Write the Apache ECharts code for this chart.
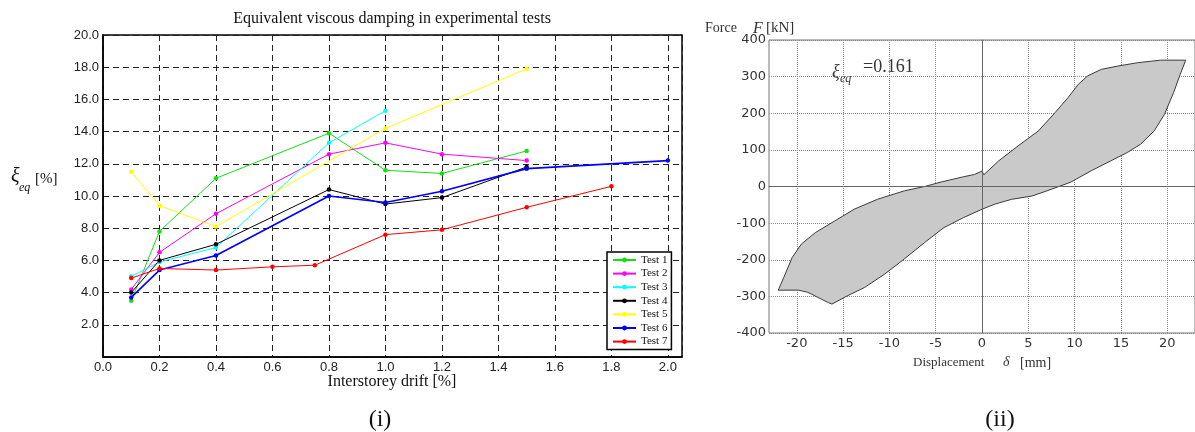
<!DOCTYPE html>
<html>
<head>
<meta charset="utf-8">
<script src="https://cdn.jsdelivr.net/npm/echarts@6/dist/echarts.min.js"></script>
<style>
html, body { margin: 0; padding: 0; background: #fff; }
#chart { width: 1195px; height: 432px; }
</style>
</head>
<body>
<div id="chart"></div>
<script>
// (i) equivalent viscous damping, one pair of arrays per test
const testNames = ['Test 1', 'Test 2', 'Test 3', 'Test 4', 'Test 5', 'Test 6', 'Test 7'];
const drift1 = [0.1, 0.2, 0.4, 0.8, 1.0, 1.2, 1.5];
const damp1  = [3.5, 7.8, 11.1, 13.9, 11.6, 11.4, 12.8];
const drift2 = [0.1, 0.2, 0.4, 0.8, 1.0, 1.2, 1.5];
const damp2  = [4.2, 6.5, 8.9, 12.6, 13.3, 12.6, 12.2];
const drift3 = [0.1, 0.2, 0.4, 0.8, 1.0];
const damp3  = [5.0, 5.9, 6.8, 13.3, 15.3];
const drift4 = [0.1, 0.2, 0.4, 0.8, 1.0, 1.2, 1.5];
const damp4  = [4.0, 6.0, 7.0, 10.4, 9.5, 9.9, 11.8];
const drift5 = [0.1, 0.2, 0.4, 1.0, 1.5];
const damp5  = [11.5, 9.4, 8.1, 14.2, 17.9];
const drift6 = [0.1, 0.2, 0.4, 0.8, 1.0, 1.2, 1.5, 2.0];
const damp6  = [3.7, 5.4, 6.3, 10.0, 9.6, 10.3, 11.7, 12.2];
const drift7 = [0.1, 0.2, 0.4, 0.6, 0.75, 1.0, 1.2, 1.5, 1.8];
const damp7  = [4.9, 5.5, 5.4, 5.6, 5.7, 7.6, 7.9, 9.3, 10.6];

// (ii) hysteresis loop outline, displacement [mm] and force [kN]
const loopDisp  = [-22.0, -21.4, -20.5, -19.5, -18.0, -15.9, -13.8, -11.3, -8.4, -6.2, -4.3, -2.1, -0.8, 0.0,
                   0.2, 1.8, 3.9, 6.1, 7.9, 9.3, 10.4, 11.4, 12.9, 14.7, 16.8, 19.3, 22.0,
                   21.4, 20.7, 19.7, 18.6, 17.1, 15.7, 13.9, 11.8, 9.6, 8.3, 7.0, 5.4, 3.2, 1.4, 0.0,
                   -2.0, -4.1, -6.2, -8.4, -10.5, -12.7, -14.5, -16.2, -16.6, -18.8, -19.8];
const loopForce = [-283, -248, -194, -157, -126, -94, -62, -35, -12, 0, 13, 26, 33, 42,
                   32, 70, 111, 152, 202, 243, 279, 302, 320, 329, 338, 345, 345,
                   306, 257, 197, 152, 115, 93, 70, 43, 12, 0, -12, -26, -35, -48, -62,
                   -85, -112, -153, -198, -239, -276, -298, -321, -317, -289, -283];
const dispTicks = [-20, -15, -10, -5, 0, 5, 10, 15, 20];

const testColors = ['#11e011', '#ff00ff', '#00ffff', '#000000', '#ffff00', '#0000ff', '#ff0000'];
const drifts = [drift1, drift2, drift3, drift4, drift5, drift6, drift7];
const damps = [damp1, damp2, damp3, damp4, damp5, damp6, damp7];

const serif = '"Liberation Serif", "DejaVu Serif", serif';

function txt(text, x, y, size, opts) {
    opts = opts || {};
    return {
        type: 'text', x: x, y: y, silent: true,
        style: {
            text: text,
            fontFamily: serif,
            fontSize: size,
            fontStyle: opts.italic ? 'italic' : 'normal',
            fill: opts.color || '#111',
            align: opts.align || 'left',
            verticalAlign: 'middle'
        }
    };
}

const chart = echarts.init(document.getElementById('chart'));

const lineSeries = testNames.map(function (name, i) {
    return {
        name: name,
        type: 'line',
        xAxisIndex: 0,
        yAxisIndex: 0,
        data: drifts[i].map(function (d, j) { return [d, damps[i][j]]; }),
        symbol: 'circle',
        symbolSize: 4.5,
        showAllSymbol: true,
        lineStyle: { color: testColors[i], width: i === 5 ? 1.6 : 1 },
        itemStyle: { color: testColors[i] },
        emphasis: { disabled: true }
    };
});

chart.setOption({
    animation: false,
    grid: [
        { left: 103, top: 35, width: 579, height: 322, show: true, borderColor: '#000', borderWidth: 1.5 },
        { left: 769, top: 40, width: 429, height: 293, show: true, borderColor: '#777', borderWidth: 1 }
    ],
    legend: {
        data: testNames,
        orient: 'vertical',
        left: 607,
        top: 252,
        padding: [2, 4, 2, 5],
        itemWidth: 23,
        itemHeight: 6,
        itemGap: 1.6,
        backgroundColor: '#fff',
        borderColor: '#000',
        borderWidth: 1.5,
        borderRadius: 0,
        textStyle: { fontFamily: serif, fontSize: 11, color: '#111', lineHeight: 12 }
    },
    xAxis: [
        {
            type: 'value', gridIndex: 0, min: 0, max: 2.05, interval: 0.2,
            axisLine: { lineStyle: { color: '#000', width: 1.5 } },
            axisTick: { show: false },
            axisLabel: {
                margin: 4, color: '#222', fontFamily: '"Liberation Sans", Arial, sans-serif', fontSize: 13,
                formatter: function (v) { return v > 2.01 ? '' : v.toFixed(1); }
            },
            splitLine: { show: true, lineStyle: { color: '#222', type: [6, 4], width: 1 } }
        },
        {
            type: 'value', gridIndex: 1, min: -23, max: 23,
            axisLine: { lineStyle: { color: '#777', width: 1 } },
            axisTick: { show: false, customValues: dispTicks },
            axisLabel: {
                margin: 4, color: '#333', fontFamily: '"DejaVu Sans", sans-serif', fontSize: 13,
                customValues: dispTicks
            },
            splitLine: { show: true, lineStyle: { color: '#888', type: 'dotted', width: 1 } }
        }
    ],
    yAxis: [
        {
            type: 'value', gridIndex: 0, min: 0, max: 20, interval: 2,
            axisLine: { show: true, lineStyle: { color: '#000', width: 1.5 } },
            axisTick: { show: false },
            axisLabel: {
                margin: 4, color: '#222', fontFamily: '"Liberation Sans", Arial, sans-serif', fontSize: 13,
                formatter: function (v) { return v === 0 ? '' : v.toFixed(1); }
            },
            splitLine: { show: true, lineStyle: { color: '#222', type: [6, 4], width: 1 } }
        },
        {
            type: 'value', gridIndex: 1, min: -400, max: 400, interval: 100,
            axisLine: { show: true, lineStyle: { color: '#777', width: 1 } },
            axisTick: { show: false },
            axisLabel: { margin: 3, color: '#333', fontFamily: '"DejaVu Sans", sans-serif', fontSize: 13 },
            splitLine: { show: true, lineStyle: { color: '#888', type: 'dotted', width: 1 } }
        }
    ],
    series: lineSeries.concat([
        {
            name: 'loop',
            type: 'custom',
            xAxisIndex: 1,
            yAxisIndex: 1,
            data: [[0, 0]],
            silent: true,
            z: 2,
            renderItem: function (params, api) {
                return {
                    type: 'polygon',
                    shape: { points: loopDisp.map(function (d, i) { return api.coord([d, loopForce[i]]); }) },
                    style: { fill: '#c9c9c9', stroke: '#3a3a3a', lineWidth: 1 }
                };
            }
        },
        {
            name: 'zero',
            type: 'line',
            xAxisIndex: 1,
            yAxisIndex: 1,
            data: [],
            z: 5,
            markLine: {
                silent: true,
                symbol: ['none', 'none'],
                label: { show: false },
                lineStyle: { color: '#666', type: 'solid', width: 1 },
                data: [{ xAxis: 0 }, { yAxis: 0 }]
            }
        }
    ]),
    graphic: [
        txt('Equivalent viscous damping in experimental tests', 392, 19, 16, { align: 'center' }),
        txt('ξ', 11, 177, 20, { italic: true }),
        txt('eq', 19, 188, 12, { italic: true }),
        txt('[%]', 35, 179, 15),
        txt('Interstorey drift [%]', 392, 382, 16, { align: 'center' }),
        txt('(i)', 380, 420, 24, { align: 'center' }),
        txt('(ii)', 1000, 420, 24, { align: 'center' }),
        txt('Force', 705, 28, 14, { color: '#333' }),
        txt('F', 753, 29, 16, { italic: true, color: '#333' }),
        txt('[kN]', 766, 28, 15, { color: '#333' }),
        txt('ξ', 832, 72, 18, { italic: true, color: '#333' }),
        txt('eq', 840, 78.5, 12, { italic: true, color: '#333' }),
        txt('=0.161', 863, 67.5, 18, { color: '#333' }),
        txt('Displacement', 913, 363, 13, { color: '#333' }),
        txt('δ', 1003, 362, 14, { italic: true, color: '#333' }),
        txt('[mm]', 1020, 363, 14, { color: '#333' })
    ]
});
</script>
</body>
</html>
